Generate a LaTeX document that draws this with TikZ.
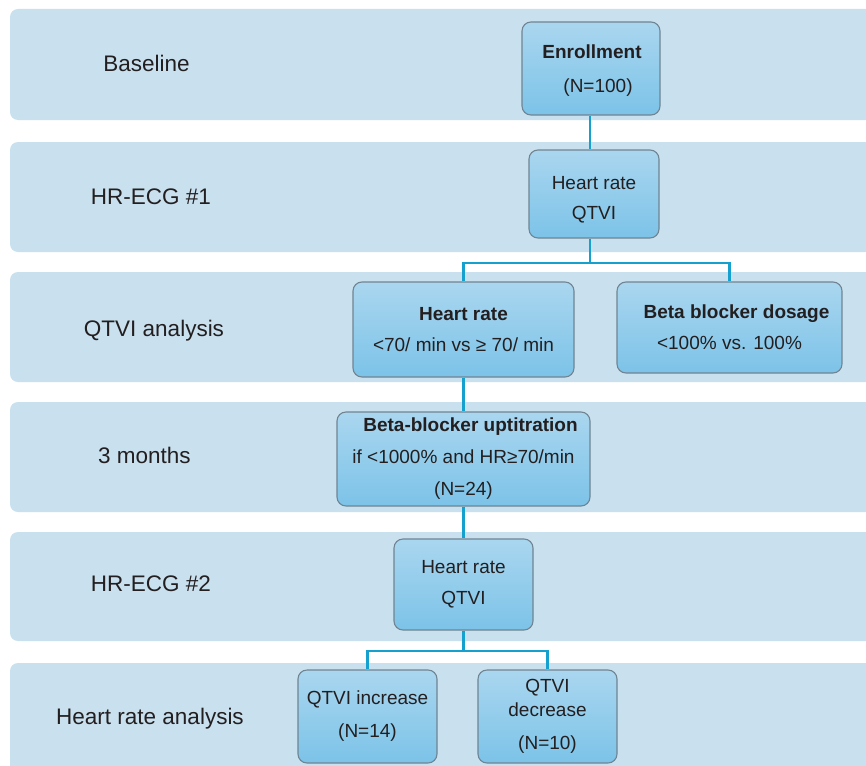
\documentclass[tikz,border=0pt]{standalone}
\usepackage{fontspec}
\setmainfont{Liberation Sans}
\definecolor{bandc}{RGB}{201,224,238}
\definecolor{boxtop}{RGB}{170,214,239}
\definecolor{boxbot}{RGB}{124,195,232}
\definecolor{boxline}{RGB}{112,132,146}
\definecolor{linkc}{RGB}{22,160,206}
\definecolor{txt}{RGB}{35,31,32}
\begin{document}
\begin{tikzpicture}[x=1pt,y=-1pt,
  band/.style={fill=bandc, rounded corners=8pt},
  box/.style={draw=boxline, line width=1.1pt, rounded corners=9pt, top color=boxtop, bottom color=boxbot,
    align=center, text=txt, font=\fontsize{19}{32}\selectfont, inner sep=0pt},
  boxtext/.style={align=center, text=txt, font=\fontsize{19}{32}\selectfont, inner sep=0pt},
  lab/.style={text=txt, font=\fontsize{22.5}{27}\selectfont, text height=16pt, text depth=0pt, inner sep=0pt},
  link/.style={draw=linkc, line width=2.6pt}]
\useasboundingbox (0,0) rectangle (866,765);
\begin{scope}
\clip (0,0) rectangle (866,765);
\fill[band] (10,9) rectangle (890,120);
\fill[band] (10,142) rectangle (890,252);
\fill[band] (10,272) rectangle (890,382);
\fill[band] (10,402) rectangle (890,512);
\fill[band] (10,532) rectangle (890,641);
\fill[band] (10,663) rectangle (890,790);
\end{scope}
% labels
\node[lab] (l1) at (146.5,64) {Baseline};
\node[lab] (l2) at (151,196) {HR-ECG \#1};
\node[lab] (l3) at (154,328) {QTVI analysis};
\node[lab] (l4) at (144.5,455) {3 months};
\node[lab] (l5) at (151,583) {HR-ECG \#2};
\node[lab] (l6) at (150,716) {Heart rate analysis};
% boxes
\node[box, minimum width=138pt, minimum height=93pt] (enroll) at (591,68.5) {};
\node[boxtext] (enrollt) at (592,71) {\textbf{Enrollment}\\[2pt]\hspace*{12pt}(N=100)};
\node[box, minimum width=130pt, minimum height=88pt] (ecg1) at (594,194) {};
\node[boxtext] (ecg1t) at (594,200) {Heart rate\\[-2pt]QTVI};
\node[box, minimum width=221pt, minimum height=95pt] (hr) at (463.5,329.5) {\textbf{Heart rate}\\[-1pt]<70/ min vs ≥ 70/ min};
\node[box, minimum width=225pt, minimum height=91pt] (bb) at (729.5,327.5) {\hspace*{14pt}\textbf{Beta blocker dosage}\\[-1pt]<100\% vs. 100\%};
\node[box, minimum width=253pt, minimum height=94pt] (up) at (463.5,459) {\hspace*{14pt}\textbf{Beta-blocker uptitration}\\if <1000\% and HR≥70/min\\(N=24)};
\node[box, minimum width=139pt, minimum height=91pt] (ecg2) at (463.5,584.5) {Heart rate\\[-1pt]QTVI};
\node[box, minimum width=139pt, minimum height=93pt] (inc) at (367.5,716.5) {QTVI increase\\[1pt](N=14)};
\node[box, minimum width=139pt, minimum height=93pt, font=\fontsize{19}{24}\selectfont] (dec) at (547.5,716.5) {QTVI\\decrease\\[9pt](N=10)};
% connectors
\coordinate (j1) at (590,263);
\coordinate (j2) at (463.5,651);
\draw[link] (enroll.south -| 590,0) -- (ecg1.north -| 590,0);
\draw[link] (ecg1.south -| 590,0) -- (j1);
\draw[link] (hr.north) |- (j1) -| (bb.north);
\draw[link] (hr.south) -- (up.north);
\draw[link] (up.south) -- (ecg2.north);
\draw[link] (ecg2.south) -- (j2);
\draw[link] (inc.north) |- (j2) -| (dec.north);
\end{tikzpicture}
\end{document}
